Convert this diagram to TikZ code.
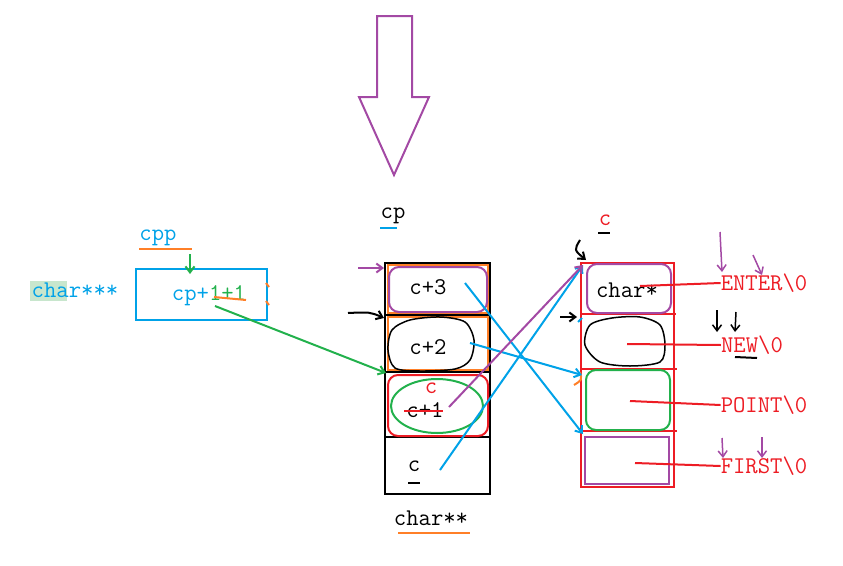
\documentclass[tikz,border=0pt]{standalone}
\usepackage{fontspec}
\usetikzlibrary{positioning,arrows.meta,calc}
\definecolor{pblue}{RGB}{0,162,232}
\definecolor{ppurple}{RGB}{163,73,164}
\definecolor{pred}{RGB}{237,28,36}
\definecolor{pgreen}{RGB}{34,177,76}
\definecolor{porange}{RGB}{255,127,39}
\definecolor{phl}{RGB}{200,230,205}
\newcommand{\paintfont}{\ttfamily\fontsize{24}{26}\selectfont}

\begin{document}
\begin{tikzpicture}[
    x=1pt, y=-1pt,
    lbl/.style={font=\paintfont, inner sep=0pt},
    frame/.style={draw, line width=2.5pt},
    box/.style={draw, line width=2pt, rounded corners=10pt},
    wire/.style={line width=2pt},
    >={Straight Barb[length=6pt,width=9pt]}
  ]
  \useasboundingbox (0,0) rectangle (843,565);

  % big arrow on top
  \draw[ppurple, line width=2pt] (377,16) -- (412,16) -- (412,97) -- (429,97)
    -- (394,175) -- (359,97) -- (377,97) -- cycle;

  % cpp box
  \fill[phl] (30,281) rectangle (67,301);
  \node[lbl, text=pblue] (cs3) at (75,290) {char***};
  \node[lbl, text=pblue] (cpp) at (158,238) {cpp};
  \draw[porange, wire] (139,249) -- (192,249);
  \draw[pblue, frame] (136,269) rectangle (267,320);
  \node[lbl] (cpval) at (209,296) {{\color{pblue}cp+}{\color{pgreen}1+1}};
  \draw[porange, wire] (214,297) -- (246,300);
  \draw[porange, wire] (266,283) -- (269,287) (266,301) -- (269,305);
  \coordinate (cppin) at (190,254);
  \coordinate (cppbox) at (190,274);
  \draw[pgreen, wire, ->] (cppin) -- (cppbox);

  % middle column: char**
  \node[lbl] (cp) at (393,216) {cp};
  \draw[pblue, wire] (380,228) -- (397,228);
  \draw[frame] (385,263) rectangle (490,494);
  \draw[frame] (385,315) -- (490,315) (385,372) -- (490,372) (385,437) -- (490,437);
  \draw[porange, wire] (388,265) rectangle (488,313) (388,317) rectangle (488,370);
  \draw[ppurple, box] (389,267) rectangle (487,312);
  \draw[line width=1.5pt] plot[smooth cycle] coordinates {(392,330) (410,320) (440,317)
    (465,322) (474,340) (470,360) (455,369) (420,371) (395,368) (388,350)};
  \draw[pred, box] (388,375) rectangle (488,436);
  \draw[pgreen, wire] (437,406) ellipse (46 and 27);
  \node[lbl] (c3) at (428,287) {c+3};
  \node[lbl] (c2) at (428,347) {c+2};
  \node[lbl, text=pred] (cnew) at (431,388) {c};
  \node[lbl] (c1) at (425,410) {c+1};
  \draw[pred, wire] (404,411) -- (443,411);
  \node[lbl] (c0) at (414,466) {c};
  \draw[wire] (408,483) -- (420,483);
  \node[lbl] (cs2) at (431,518) {char**};
  \draw[porange, wire] (398,533) -- (470,533);
  \draw[ppurple, wire, ->] (358,268) -- (384,268);
  \draw[wire, ->] (348,313) .. controls (370,312) .. (384,318);

  % right column: char*
  \node[lbl, text=pred] (c) at (605,220) {c};
  \draw[wire] (598,233) -- (610,233);
  \draw[pred, frame] (581,263) rectangle (674,487);
  \draw[pred, wire] (581,314) -- (676,314) (581,369) -- (677,369) (581,431) -- (677,431);
  \draw[ppurple, box] (587,264) rectangle (671,313);
  \draw[line width=1.5pt] plot[smooth cycle] coordinates {(590,325) (612,318) (640,317)
    (660,325) (665,345) (660,362) (630,366) (600,362) (585,345)};
  \draw[pgreen, box] (586,370) rectangle (670,430);
  \draw[ppurple, wire] (585,437) rectangle (669,484);
  \node[lbl] (cs1) at (627,290) {char*};
  \draw[wire, ->] (580,240) .. controls (574,250) .. (586,260);
  \draw[wire, ->] (560,317) -- (577,317);
  \draw[pblue, wire] (578,322) -- (582,318);
  \draw[porange, wire] (574,385) .. controls (582,380) .. (580,372);

  % strings
  \node[lbl, text=pred] (s1) at (764,283) {ENTER\textbackslash0};
  \node[lbl, text=pred] (s2) at (752,345) {NEW\textbackslash0};
  \node[lbl, text=pred] (s3) at (764,405) {POINT\textbackslash0};
  \node[lbl, text=pred] (s4) at (764,466) {FIRST\textbackslash0};
  \draw[wire] (735,357) -- (757,358);
  \coordinate (p1) at (640,286);
  \coordinate (p2) at (627,344);
  \coordinate (p3) at (630,401);
  \coordinate (p4) at (635,463);
  \draw[pred, wire] (p1) -- (s1.west);
  \draw[pred, wire] (p2) -- (s2.west);
  \draw[pred, wire] (p3) -- (s3.west);
  \draw[pred, wire] (p4) -- (s4.west);
  \draw[ppurple, line width=1.5pt, ->] (720,232) -- (722,272);
  \draw[ppurple, line width=1.5pt, ->] (753,255) -- (762,275);
  \draw[line width=1.5pt, ->] (717,310) -- (717,332);
  \draw[line width=1.5pt, ->] (736,312) -- (735,332);
  \draw[ppurple, line width=1.5pt, ->] (722,438) -- (723,458);
  \draw[ppurple, line width=1.5pt, ->] (762,437) -- (762,458);

  % pointers
  \coordinate (cpsrc) at (215,306);
  \coordinate (cell1) at (386,373);
  \draw[pgreen, wire, ->] (cpsrc) -- (cell1);
  \coordinate (q3) at (465,283);
  \coordinate (q2) at (470,343);
  \coordinate (q1) at (449,407);
  \coordinate (q0) at (440,470);
  \coordinate (r1) at (583,265);
  \coordinate (r3) at (582,375);
  \coordinate (r4) at (583,434);
  \draw[pblue, wire, ->] (q3) -- (r4);
  \draw[pblue, wire, ->] (q2) -- (r3);
  \draw[pblue, wire, ->] (q0) -- (r1);
  \draw[ppurple, wire, ->] (q1) -- (r1);
\end{tikzpicture}
\end{document}
